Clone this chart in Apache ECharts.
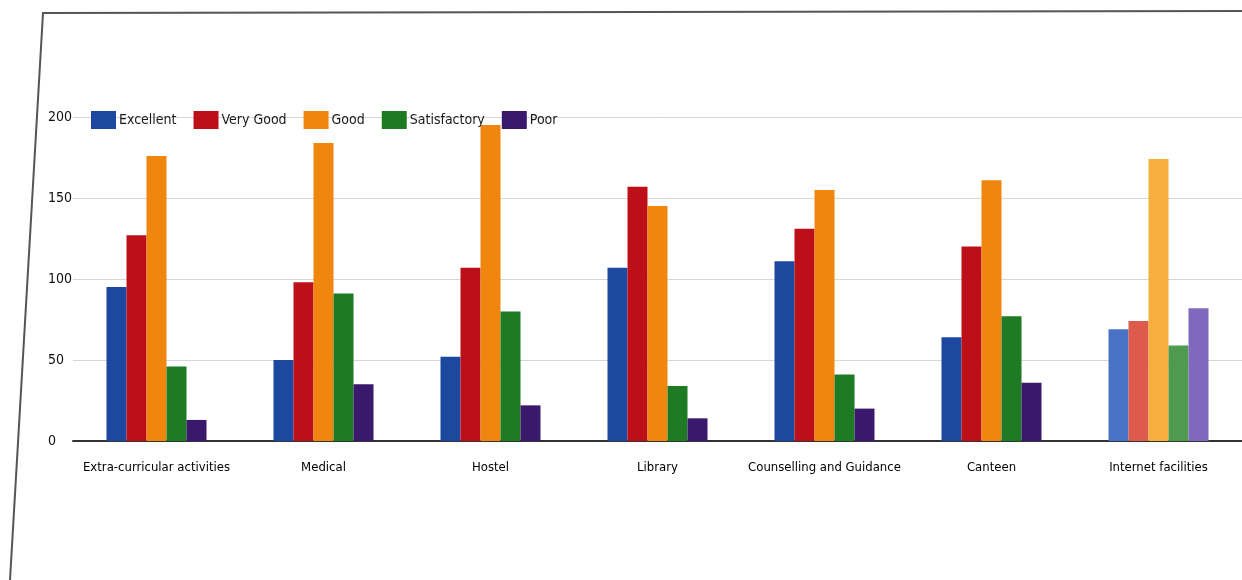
<!DOCTYPE html>
<html>
<head>
<meta charset="utf-8">
<script src="https://cdn.jsdelivr.net/npm/echarts@6/dist/echarts.min.js"></script>
<style>
html,body{margin:0;padding:0;background:#fff;}
#c{width:1242px;height:580px;}
</style>
</head>
<body>
<div id="c"></div>
<script>
const categories = ['Extra-curricular activities','Medical','Hostel','Library','Counselling and Guidance','Canteen','Internet facilities'];
const seriesNames = ['Excellent','Very Good','Good','Satisfactory','Poor'];
const excellent    = [95, 50, 52, 107, 111, 64, 69];
const veryGood     = [127, 98, 107, 157, 131, 120, 74];
const good         = [176, 184, 195, 145, 155, 161, 174];
const satisfactory = [46, 91, 80, 34, 41, 77, 59];
const poor         = [13, 35, 22, 14, 20, 36, 82];
const yTicks = [0, 50, 100, 150, 200];

const values = [excellent, veryGood, good, satisfactory, poor];
const colors = ['#1d48a0', '#bd0f17', '#f0860e', '#1f7a24', '#3a186c'];
const lightColors = ['#4a72c4', '#dc5b4c', '#f6ae3c', '#4f9a4f', '#8068be'];
const FONT = '"DejaVu Sans Condensed", "Liberation Sans Narrow", sans-serif';

const chart = echarts.init(document.getElementById('c'), null, {renderer: 'canvas'});
chart.setOption({
  backgroundColor: '#ffffff',
  animation: false,
  color: colors,
  grid: {left: 73, right: -5, top: 117, bottom: 139, containLabel: false},
  legend: {
    left: 86, top: 106,
    itemWidth: 25, itemHeight: 18, itemGap: 17,
    icon: 'rect',
    textStyle: {fontFamily: FONT, fontSize: 14, color: '#1a1a1a', padding: [0, 0, 0, -2]},
    data: seriesNames
  },
  xAxis: {
    type: 'category',
    data: categories,
    axisTick: {show: false},
    axisLine: {lineStyle: {color: '#333', width: 2}},
    axisLabel: {fontFamily: FONT, fontSize: 13, color: '#000', margin: 20, interval: 0}
  },
  yAxis: {
    type: 'value',
    min: 0, max: 200, interval: 50,
    axisLine: {show: false},
    axisTick: {show: false},
    axisLabel: {
      fontFamily: FONT, fontSize: 14, color: '#111', margin: 25, align: 'left',
      formatter: v => yTicks.includes(v) ? String(v) : ''
    },
    splitLine: {lineStyle: {color: '#d6d6d6', width: 1}}
  },
  series: seriesNames.map((name, si) => ({
    name: name,
    type: 'bar',
    barWidth: 20,
    barGap: '0%',
    data: values[si].map((v, ci) => ci === categories.length - 1
      ? {value: v, itemStyle: {color: lightColors[si]}}
      : v),
    itemStyle: {color: colors[si]}
  })),
  graphic: [
    {type: 'polyline', silent: true, shape: {points: [[1242, 11], [43, 13], [10, 580]]},
     style: {stroke: '#555', lineWidth: 2, fill: null}}
  ]
});
</script>
</body>
</html>
